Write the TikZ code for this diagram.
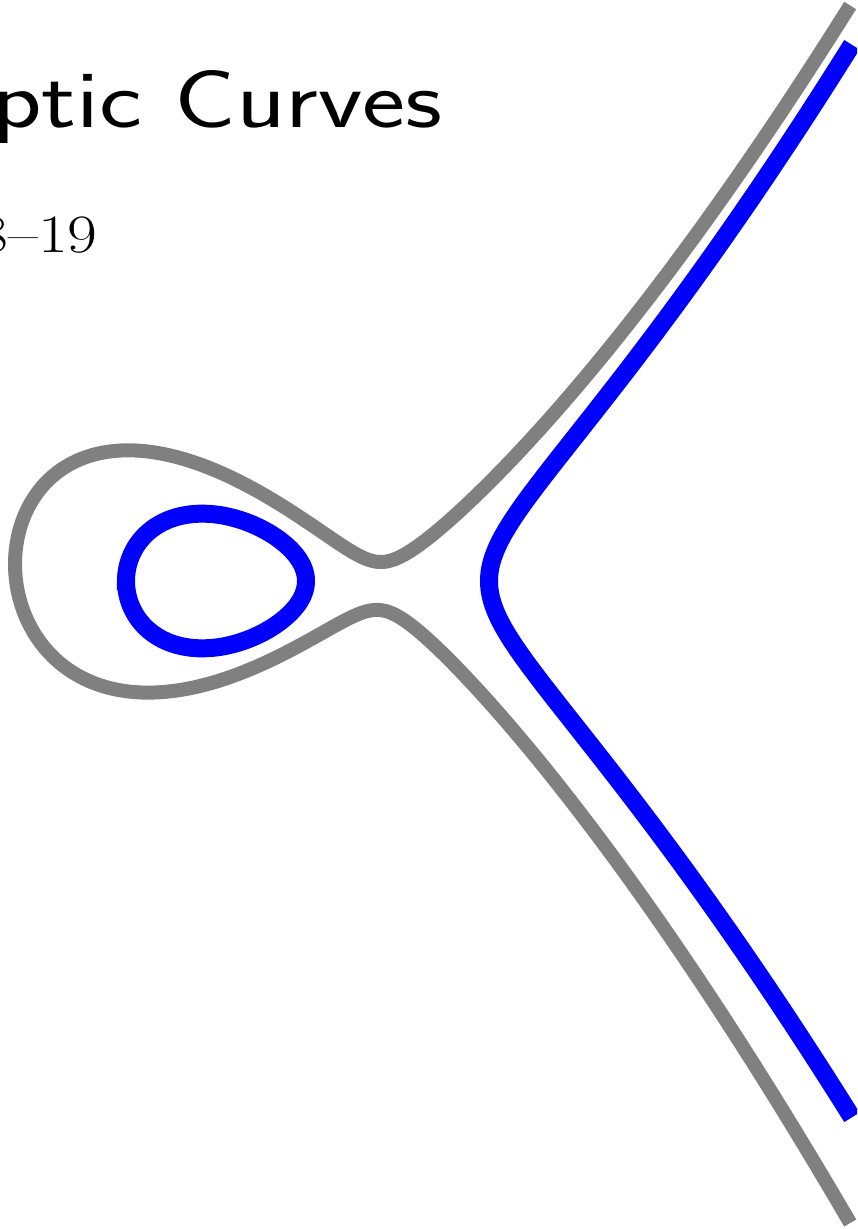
\documentclass[tikz,border=0pt]{standalone}
\usepackage{graphicx}
\usepackage{xcolor}
\definecolor{ecblue}{HTML}{0000FF}
\definecolor{ecgray}{HTML}{808080}

\begin{document}
\begin{tikzpicture}[x=0.5pt, y=-0.5pt,
    titletext/.style={inner sep=0pt, anchor=base east, font=\fontsize{41}{49}\selectfont\sffamily},
    datetext/.style={inner sep=0pt, anchor=base east, font=\fontsize{27}{32}\selectfont},
    graycurve/.style={draw=ecgray, line width=7pt, smooth},
    bluecurve/.style={draw=ecblue, line width=9pt, smooth}]
  \useasboundingbox (0,0) rectangle (857,1229);
  \clip (0,0) rectangle (857,1229);
  \node[titletext] (title) at (443,128) {\scalebox{1.25}[1]{Elliptic Curves}};
  \node[datetext] (date) at (98,253) {\scalebox{1.2}[1]{2018--19}};
  % nearly singular curve, slightly sheared
  \draw[graycurve] plot[samples=240, domain=-28.9:28.9, variable=\s]
    ({15+\s*\s}, {586+0.06*(\s*\s-365)-\s*sqrt(20*(((\s*\s-365)/100)^2+0.0789))});
  % oval and unbounded branch
  \draw[bluecurve] plot[samples=180, domain=0:360, variable=\t]
    ({216-90*cos(\t)}, {581-90*sin(\t)*sqrt(0.002*(489-(216-90*cos(\t))))}) -- cycle;
  \draw[bluecurve] plot[samples=200, domain=-19.05:19.05, variable=\s]
    ({489+\s*\s}, {581-\s*sqrt(20*((363+\s*\s)/100)*((183+\s*\s)/100))});
\end{tikzpicture}
\end{document}
